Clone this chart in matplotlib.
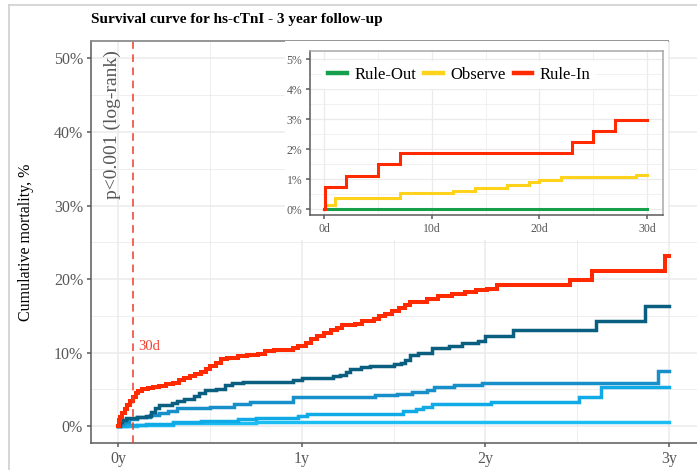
import matplotlib
matplotlib.use("Agg")
import matplotlib.pyplot as plt
from matplotlib.lines import Line2D
from matplotlib.patches import Rectangle

# ---- data: 3 year curves (time in years, cumulative mortality in %) ----
end_year = 3.0
red_t = [0, 0.005, 0.01, 0.02, 0.035, 0.05, 0.065, 0.08, 0.095, 0.11, 0.13, 0.16, 0.19,
         0.22, 0.26, 0.30, 0.33, 0.36, 0.39, 0.42, 0.45, 0.48, 0.50, 0.53, 0.56, 0.59,
         0.65, 0.70, 0.76, 0.80, 0.85, 0.95, 0.98, 1.02, 1.05, 1.08, 1.12, 1.16, 1.19,
         1.22, 1.29, 1.33, 1.39, 1.42, 1.45, 1.49, 1.53, 1.56, 1.59, 1.68, 1.74, 1.82,
         1.89, 1.95, 2.01, 2.06, 2.46, 2.58, 2.975]
red_v = [0, 0.8, 1.2, 1.8, 2.3, 2.8, 3.4, 4.0, 4.5, 4.8, 5.0, 5.2, 5.3,
         5.5, 5.7, 5.9, 6.2, 6.5, 6.8, 7.1, 7.4, 7.7, 8.1, 8.6, 9.1, 9.3,
         9.5, 9.6, 9.8, 10.2, 10.4, 10.6, 10.9, 11.3, 11.9, 12.3, 12.6, 13.0, 13.4,
         13.7, 13.9, 14.3, 14.6, 15.0, 15.3, 15.7, 16.0, 16.5, 16.9, 17.3, 17.7, 18.0,
         18.2, 18.5, 18.7, 19.2, 19.9, 21.1, 23.1]

dark_t = [0, 0.01, 0.02, 0.04, 0.10, 0.15, 0.18, 0.20, 0.22, 0.29, 0.32, 0.36, 0.41,
          0.44, 0.47, 0.53, 0.58, 0.62, 0.68, 0.95, 1.00, 1.17, 1.21, 1.24, 1.26, 1.32,
          1.37, 1.50, 1.54, 1.56, 1.59, 1.63, 1.71, 1.80, 1.87, 1.96, 2.00, 2.15, 2.60, 2.87]
dark_v = [0, 0.5, 0.8, 1.1, 1.2, 1.4, 1.9, 2.4, 2.9, 3.1, 3.4, 3.7, 4.1,
          4.5, 4.9, 5.1, 5.6, 5.8, 6.0, 6.3, 6.6, 6.8, 6.9, 7.3, 7.7, 8.0,
          8.2, 8.4, 8.6, 9.0, 9.7, 10.0, 10.6, 10.9, 11.3, 11.6, 12.2, 13.0, 14.3, 16.3]

mid_t = [0, 0.01, 0.03, 0.06, 0.10, 0.17, 0.22, 0.27, 0.32, 0.50, 0.63, 0.72, 0.95,
         1.40, 1.52, 1.60, 1.68, 1.72, 1.83, 1.98, 2.94]
mid_v = [0, 0.3, 0.6, 0.9, 1.2, 1.5, 1.8, 2.1, 2.4, 2.6, 3.0, 3.3, 3.9,
         4.2, 4.4, 4.6, 4.9, 5.3, 5.6, 5.9, 7.5]

light_t = [0, 0.05, 0.15, 0.30, 0.45, 0.65, 0.75, 0.98, 1.03, 1.55, 1.62, 1.66, 1.71,
           2.03, 2.51, 2.63]
light_v = [0, 0.2, 0.3, 0.5, 0.7, 0.9, 1.1, 1.3, 1.6, 2.0, 2.3, 2.6, 3.0,
           3.3, 4.0, 5.3]

low_t = [0, 0.10, 0.30, 0.75]
low_v = [0, 0.1, 0.4, 0.5]

# ---- data: 30 day inset (time in days, %) ----
end_day = 30
out_t = [0]
out_v = [0.0]
obs_t = [0, 0.05, 1, 7, 12, 14, 17, 19, 20, 22, 29]
obs_v = [0, 0.15, 0.38, 0.52, 0.61, 0.70, 0.79, 0.90, 0.98, 1.06, 1.14]
in_t = [0, 0.05, 2, 5, 7, 23, 25, 27]
in_v = [0, 0.74, 1.11, 1.49, 1.86, 2.23, 2.60, 2.97]
legend_labels = ["Rule-Out", "Observe", "Rule-In"]

main_ticks = [0, 10, 20, 30, 40, 50]
year_ticks = [0, 1, 2, 3]
inset_ticks = [0, 1, 2, 3, 4, 5]
day_ticks = [0, 10, 20, 30]

RED = "#ff2a00"
GREEN = "#16a04c"
YELLOW = "#ffd31c"
BLUES = ["#0a5e80", "#1790c9", "#10abe6", "#1cbdf3"]
GRID = "#ebebeb"
AXIS = "#5a5a5a"
TXT = "#585858"

plt.rcParams["font.family"] = ["Liberation Serif", "DejaVu Serif"]

W, H = 697, 470
fig = plt.figure(figsize=(W / 100, H / 100), dpi=100)


def fx(px):
    return px / W


def fy(py):
    return 1 - py / H


def steps(ax, t, v, end, color, lw, z=3):
    ax.step(list(t) + [end], list(v) + [v[-1]], where="post", color=color, lw=lw,
            solid_joinstyle="miter", zorder=z)


def style(ax, xt, yt, xlab, ylab, size, minor_x, minor_y, lw_grid):
    ax.set_xticks(xt)
    ax.set_xticklabels(xlab)
    ax.set_yticks(yt)
    ax.set_yticklabels(ylab)
    ax.set_xticks(minor_x, minor=True)
    ax.set_yticks(minor_y, minor=True)
    ax.grid(True, which="major", color=GRID, lw=lw_grid, zorder=0)
    ax.grid(True, which="minor", color=GRID, lw=lw_grid * 0.55, zorder=0)
    ax.set_axisbelow(True)
    ax.tick_params(which="major", direction="out", length=3.2, width=1.1, color=AXIS,
                   labelsize=size, labelcolor=TXT, pad=2.5)
    ax.tick_params(which="minor", length=0)
    for s in ("left", "bottom"):
        ax.spines[s].set_color(AXIS)
        ax.spines[s].set_linewidth(1.1)


# ---- main panel ----
ax = fig.add_axes([fx(91), fy(443), fx(697 - 91), (443 - 41) / H])
ax.set_xlim(-0.1487, 3.152)
ax.set_ylim(-2.31, 52.38)
style(ax, year_ticks, main_ticks, [f"{y}y" for y in year_ticks],
      [f"{p}%" for p in main_ticks], 11.5, [0.5, 1.5, 2.5], [5, 15, 25, 35, 45], 1.1)
ax.spines["top"].set_visible(False)
ax.spines["right"].set_visible(False)

for t, v, c in zip([low_t, light_t, mid_t, dark_t], [low_v, light_v, mid_v, dark_v],
                   BLUES[::-1]):
    steps(ax, t, v, end_year, c, 2.5)
steps(ax, red_t, red_v, end_year, RED, 2.9, z=4)

ax.axvline(30 / 365, color="#ee3b2b", lw=1.1, ls=(0, (5, 3.6)), zorder=5)
ax.text(0.108, 10.8, "30d", color="#f04030", fontsize=10.5, va="center", ha="left")
ax.text(-0.03, 41.0, "p<0.001 (log-rank)", rotation=90, color=TXT, fontsize=14,
        va="center", ha="center")
ax.set_ylabel("Cumulative mortality, %", fontsize=11.5, color="black", labelpad=14)

fig.text(fx(91), fy(20), "Survival curve for hs-cTnI - 3 year follow-up",
         fontsize=11, fontweight="bold", va="center", ha="left")

# outer frame and top line
fig.add_artist(Line2D([fx(9), fx(9)], [fy(5), 0], color="#d0d0d0", lw=1.2))
fig.add_artist(Line2D([fx(9), 1], [fy(5), fy(5)], color="#d0d0d0", lw=1.2))
fig.add_artist(Line2D([fx(91), fx(668)], [fy(41), fy(41)], color="#8c8c8c", lw=1.3))

# ---- inset ----
fig.add_artist(Rectangle((fx(285), fy(240)), fx(668 - 285), (240 - 41) / H,
                         facecolor="white", edgecolor="none", zorder=2))
ins = fig.add_axes([fx(310), fy(215), fx(663 - 310), (215 - 51) / H])
ins.set_zorder(3)
ins.set_xlim(-1.33, 31.5)
ins.set_ylim(-0.2, 5.27)
style(ins, day_ticks, inset_ticks, [f"{d}d" for d in day_ticks],
      [f"{p}%" for p in inset_ticks], 8.5, [5, 15, 25], [0.5, 1.5, 2.5, 3.5, 4.5], 0.9)
for s in ("top", "right"):
    ins.spines[s].set_color("#a8a8a8")
    ins.spines[s].set_linewidth(1.1)

steps(ins, out_t, out_v, end_day, GREEN, 2.2)
steps(ins, obs_t, obs_v, end_day, YELLOW, 2.2)
steps(ins, in_t, in_v, end_day, RED, 2.2)

handles = [Line2D([], [], color=c, lw=3.2) for c in (GREEN, YELLOW, RED)]
leg = ins.legend(handles, legend_labels, ncol=3, loc="upper left",
                 bbox_to_anchor=(0.035, 0.94), fontsize=12, frameon=True,
                 handlelength=1.1, handletextpad=0.45, columnspacing=0.5,
                 borderpad=0.35, borderaxespad=0)
leg.get_frame().set_facecolor("white")
leg.get_frame().set_edgecolor("none")
leg.get_frame().set_alpha(1)

fig.savefig("out.png", dpi=100)
